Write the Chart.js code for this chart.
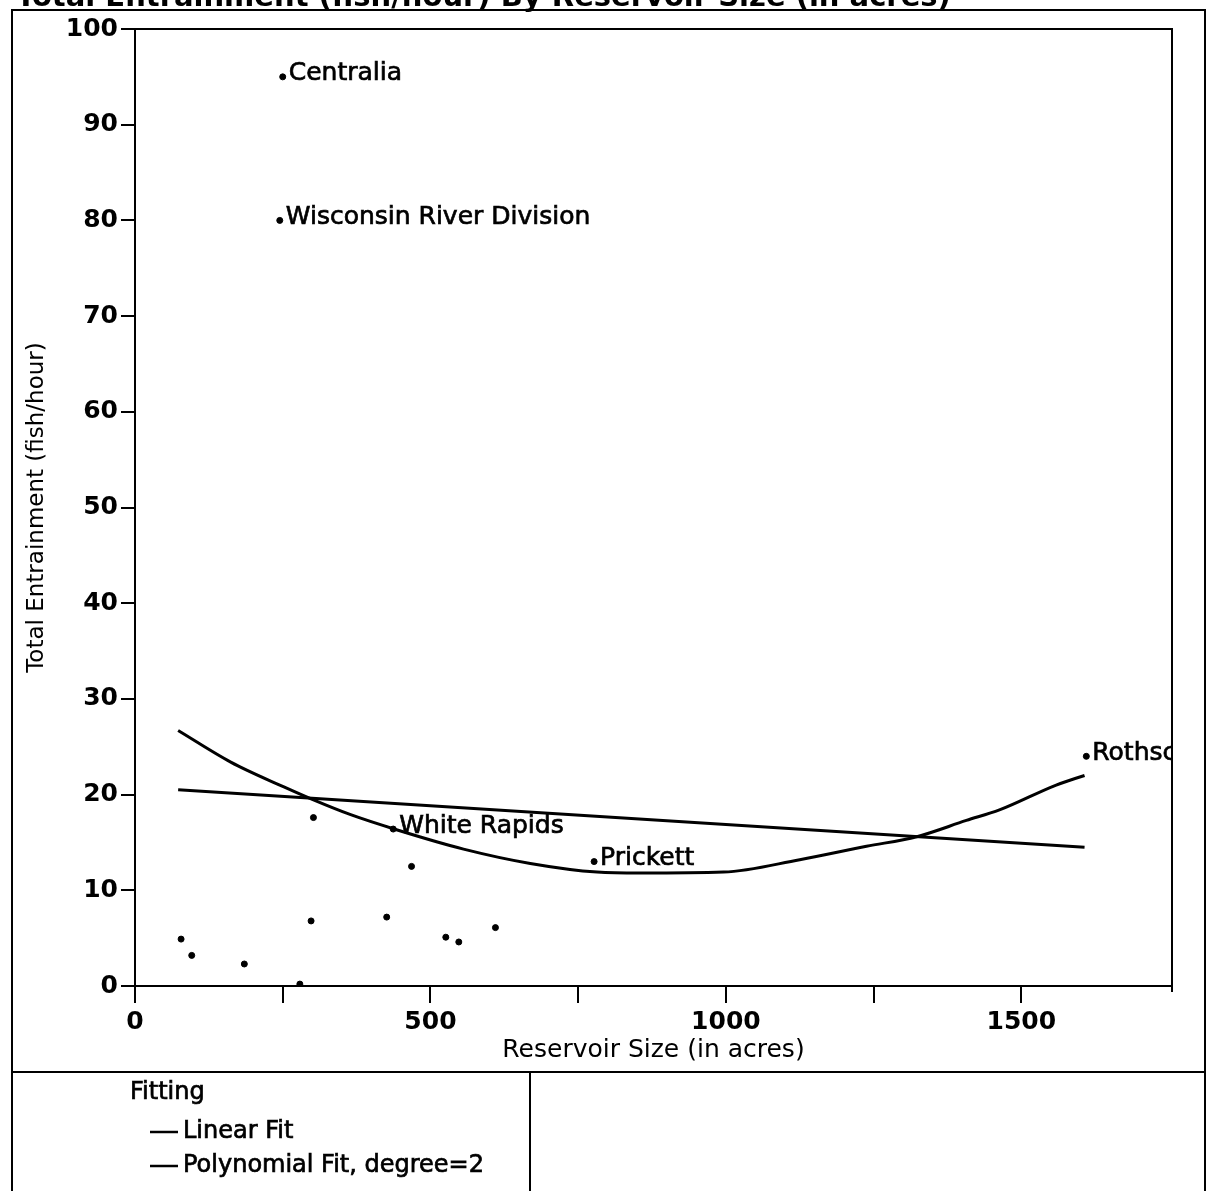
<!DOCTYPE html>
<html>
<head>
<meta charset="utf-8">
<script src="https://cdn.jsdelivr.net/npm/chart.js@4.4.0/dist/chart.umd.min.js"></script>
<style>
  html, body { margin: 0; padding: 0; background: #fff; }
  #wrap { width: 1209px; height: 1191px; }
</style>
</head>
<body>
<div id="wrap"><canvas id="chart" width="1209" height="1191"></canvas></div>
<script>
const titleText = 'Total Entrainment (fish/hour) By Reservoir Size (in acres)';
const xTitle = 'Reservoir Size (in acres)';
const yTitle = 'Total Entrainment (fish/hour)';

// one entry per site; only some are labelled on the plot
const siteSize = [78, 96, 185, 279, 302, 298, 426, 468, 526, 548, 610, 437, 777, 250, 245, 1610];
const siteEntrain = [4.9, 3.2, 2.3, 0.2, 17.6, 6.8, 7.2, 12.5, 5.1, 4.6, 6.1, 16.4, 13.0, 95.0, 80.0, 24.0];
const siteNames = ['', '', '', '', '', '', '', '', '', '', '', 'White Rapids', 'Prickett', 'Centralia', 'Wisconsin River Division', 'Rothschild'];

const linearX = [73, 1607];
const linearY = [20.5, 14.5];

const polyX = [73, 162, 252, 300, 365, 444, 556, 669, 782, 855, 996, 1125, 1238, 1323, 1407, 1463, 1559, 1607];
const polyY = [26.7, 23.4, 20.8, 19.5, 17.9, 16.3, 14.3, 12.8, 11.9, 11.8, 11.9, 13.2, 14.6, 15.6, 17.3, 18.4, 21.0, 22.0];

const xTickValues = [0, 250, 500, 750, 1000, 1250, 1500];
const xTickLabels = ['0', '', '500', '', '1000', '', '1500'];

const legendHeader = 'Fitting';
const fitNames = ['Linear Fit', 'Polynomial Fit, degree=2'];

const FONT = "'DejaVu Sans', sans-serif";
Chart.defaults.font.family = FONT;
Chart.defaults.color = '#000';

const toPts = (xs, ys) => xs.map((x, i) => ({ x, y: ys[i] }));

// scanned look: fill plus a thin stroke
function heavyText(ctx, text, x, y) {
  ctx.fillText(text, x, y);
  ctx.strokeText(text, x, y);
}

// page frame, clipped title and the legend box underneath
const framePlugin = {
  id: 'frame',
  beforeDraw(chart) {
    const ctx = chart.ctx;
    ctx.save();
    ctx.fillStyle = '#fff';
    ctx.fillRect(0, 0, chart.width, chart.height);
    ctx.restore();
  },
  afterDraw(chart) {
    const { ctx, chartArea: a } = chart;
    ctx.save();
    ctx.strokeStyle = '#000';
    ctx.lineWidth = 2;
    ctx.beginPath();
    ctx.moveTo(12, 1191); ctx.lineTo(12, 10); ctx.lineTo(1205, 10); ctx.lineTo(1205, 1191);
    ctx.moveTo(12, 1072); ctx.lineTo(1205, 1072);
    ctx.moveTo(530, 1072); ctx.lineTo(530, 1191);
    ctx.moveTo(a.left, a.top); ctx.lineTo(a.right, a.top); ctx.lineTo(a.right, a.bottom + 6);
    ctx.stroke();

    // title sits mostly above the page edge
    ctx.fillStyle = '#000';
    ctx.font = `bold 30px ${FONT}`;
    const w = ctx.measureText(titleText).width;
    const size = 30 * 935 / w;
    ctx.font = `bold ${size}px ${FONT}`;
    ctx.textBaseline = 'alphabetic';
    ctx.fillText(titleText, 16, 6);

    // legend
    ctx.font = `24px ${FONT}`;
    ctx.textBaseline = 'middle';
    ctx.lineWidth = 0.7;
    heavyText(ctx, legendHeader, 130, 1093);
    fitNames.forEach((name, i) => {
      const y = 1132 + i * 34;
      ctx.lineWidth = 2.5;
      ctx.beginPath();
      ctx.moveTo(150, y); ctx.lineTo(178, y);
      ctx.stroke();
      ctx.lineWidth = 0.7;
      heavyText(ctx, name, 183, y);
    });
    ctx.restore();
  }
};

// names next to the labelled points, cut at the plot edge
const namePlugin = {
  id: 'names',
  afterDatasetsDraw(chart) {
    const { ctx, chartArea: a } = chart;
    const meta = chart.getDatasetMeta(0);
    ctx.save();
    ctx.beginPath();
    ctx.rect(a.left, a.top, a.right - a.left, a.bottom - a.top);
    ctx.clip();
    ctx.font = `25px ${FONT}`;
    ctx.textBaseline = 'middle';
    ctx.fillStyle = '#000';
    ctx.strokeStyle = '#000';
    ctx.lineWidth = 0.7;
    meta.data.forEach((pt, i) => {
      if (siteNames[i]) heavyText(ctx, siteNames[i], pt.x + 6, pt.y - 3);
    });
    ctx.restore();
  }
};

const tickFont = { family: FONT, size: 25, weight: 'bold' };

new Chart(document.getElementById('chart'), {
  type: 'scatter',
  data: {
    datasets: [
      {
        label: 'Sites',
        data: toPts(siteSize, siteEntrain),
        backgroundColor: '#000',
        borderColor: '#000',
        pointRadius: 3,
        pointHoverRadius: 3
      },
      {
        label: fitNames[0],
        data: toPts(linearX, linearY),
        showLine: true,
        borderColor: '#000',
        borderWidth: 3,
        pointRadius: 0
      },
      {
        label: fitNames[1],
        data: toPts(polyX, polyY),
        showLine: true,
        borderColor: '#000',
        borderWidth: 3,
        pointRadius: 0,
        tension: 0.4,
        cubicInterpolationMode: 'monotone'
      }
    ]
  },
  options: {
    responsive: false,
    animation: false,
    devicePixelRatio: 1,
    layout: { padding: { left: 0, top: 29, right: 37, bottom: 125 } },
    plugins: { legend: { display: false }, tooltip: { enabled: false } },
    scales: {
      x: {
        type: 'linear',
        min: 0,
        max: 1755,
        afterBuildTicks: s => { s.ticks = xTickValues.map(v => ({ value: v })); },
        afterFit: s => { s.height = 80; },
        ticks: {
          autoSkip: false,
          maxRotation: 0,
          padding: 4,
          color: '#000',
          font: tickFont,
          callback: (v, i) => xTickLabels[i]
        },
        grid: { drawOnChartArea: false, drawTicks: true, tickLength: 17, color: '#000', lineWidth: 2 },
        border: { display: true, color: '#000', width: 2 },
        title: { display: true, text: xTitle, color: '#000', font: { family: FONT, size: 25 }, padding: { top: 0, bottom: 1 } }
      },
      y: {
        min: 0,
        max: 100,
        afterFit: s => { s.width = 135; },
        ticks: { stepSize: 10, padding: 3, color: '#000', font: tickFont },
        grid: { drawOnChartArea: false, drawTicks: true, tickLength: 14, color: '#000', lineWidth: 2 },
        border: { display: true, color: '#000', width: 2 },
        title: { display: true, text: yTitle, color: '#000', font: { family: FONT, size: 23 }, padding: { top: 23, bottom: 0 } }
      }
    }
  },
  plugins: [framePlugin, namePlugin]
});
</script>
</body>
</html>
